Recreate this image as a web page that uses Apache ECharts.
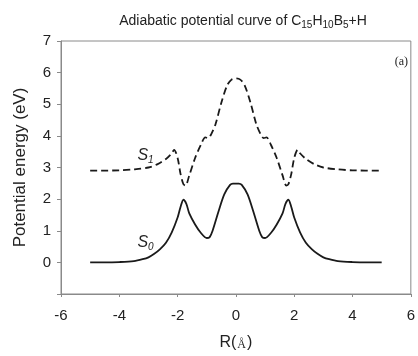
<!DOCTYPE html>
<html lang="en">
<head>
	<meta charset="UTF-8">
	<title>Adiabatic potential curve</title>
	<script src="https://cdn.jsdelivr.net/npm/echarts@6/dist/echarts.min.js"></script>
	<style>
		html, body { margin: 0; padding: 0; background: #fff; }
		#main { width: 418px; height: 356px; }
	</style>
</head>
<body>
	<div id="main"></div>
	<script>
		// R (Angstrom) positions
		var rS0 = [-5, -4.5, -4, -3.5, -3.2, -3, -2.8, -2.6, -2.4, -2.2, -2.0, -1.9, -1.8, -1.7, -1.6, -1.4, -1.2, -1.0, -0.9, -0.8, -0.6, -0.4, -0.2, -0.1, 0,
			0.1, 0.2, 0.4, 0.6, 0.8, 0.9, 1.0, 1.2, 1.4, 1.6, 1.7, 1.8, 1.9, 2.0, 2.2, 2.4, 2.6, 2.8, 3, 3.2, 3.5, 4, 4.5, 5];
		// ground state S0 energy (eV)
		var eS0 = [0, 0, 0.01, 0.04, 0.1, 0.16, 0.27, 0.42, 0.62, 0.95, 1.42, 1.75, 1.98, 1.85, 1.55, 1.2, 0.93, 0.77, 0.8, 1.0, 1.6, 2.15, 2.45, 2.49, 2.49,
			2.49, 2.45, 2.15, 1.6, 1.0, 0.8, 0.77, 0.93, 1.2, 1.55, 1.85, 1.98, 1.75, 1.42, 0.95, 0.62, 0.42, 0.27, 0.16, 0.1, 0.04, 0.01, 0, 0];

		var rS1 = [-5, -4, -3.5, -3, -2.7, -2.4, -2.2, -2.12, -2.0, -1.9, -1.8, -1.73, -1.6, -1.4, -1.2, -1.05, -0.95, -0.85, -0.7, -0.5, -0.3, -0.15, 0,
			0.15, 0.3, 0.5, 0.7, 0.85, 0.95, 1.05, 1.2, 1.4, 1.6, 1.73, 1.8, 1.9, 2.0, 2.12, 2.2, 2.4, 2.7, 3, 3.5, 4, 5];
		// excited state S1 energy (eV)
		var eS1 = [2.9, 2.91, 2.94, 3.0, 3.1, 3.27, 3.45, 3.56, 3.3, 2.8, 2.47, 2.43, 2.75, 3.3, 3.72, 3.95, 3.93, 4.05, 4.37, 5.05, 5.6, 5.78, 5.82,
			5.78, 5.6, 5.05, 4.37, 4.05, 3.93, 3.95, 3.72, 3.3, 2.75, 2.43, 2.47, 2.8, 3.3, 3.56, 3.45, 3.27, 3.1, 3.0, 2.94, 2.91, 2.9];

		var xTicks = [-6, -4, -2, 0, 2, 4, 6];
		var yTicks = [0, 1, 2, 3, 4, 5, 6, 7];

		function pairs(xs, ys) {
			var out = [];
			for (var i = 0; i < xs.length; i++) out.push([xs[i], ys[i]]);
			return out;
		}

		var chart = echarts.init(document.getElementById('main'));
		var axisGray = '#8a8a8a';
		var font = 'Liberation Sans, Arial, sans-serif';

		chart.setOption({
			animation: false,
			title: {
				text: 'Adiabatic potential curve of C{s|15}H{s|10}B{s|5}+H',
				left: 238, top: 8, textAlign: 'center',
				textStyle: {
					fontFamily: font, fontSize: 14, fontWeight: 'normal', color: '#222',
					rich: { s: { fontSize: 10, fontFamily: font, color: '#222', padding: [7, 0, 0, 0] } }
				}
			},
			grid: { left: 61, right: 4, top: 41, bottom: 60, show: true, borderColor: axisGray, borderWidth: 1 },
			xAxis: {
				type: 'value', min: -6, max: 6, interval: 2,
				name: 'R({a|Å})', nameLocation: 'middle', nameGap: 41,
				nameTextStyle: {
					fontFamily: font, fontSize: 16, color: '#222',
					rich: { a: { fontFamily: 'Liberation Serif, serif', fontSize: 12, color: '#222', padding: [4, 1, 0, 1] } }
				},
				axisLine: { onZero: false, lineStyle: { color: axisGray } },
				axisTick: { inside: false, length: 3, lineStyle: { color: axisGray } },
				axisLabel: {
					fontFamily: font, fontSize: 15, color: '#222', margin: 14,
					formatter: function (v) { return xTicks.indexOf(v) >= 0 ? String(v) : ''; }
				},
				splitLine: { show: false }
			},
			yAxis: {
				type: 'value', min: -1, max: 7, interval: 1,
				name: 'Potential energy (eV)', nameLocation: 'middle', nameGap: 32,
				nameTextStyle: { fontFamily: font, fontSize: 17, color: '#222' },
				axisLine: { show: true, onZero: false, lineStyle: { color: axisGray } },
				axisTick: { show: true, length: 4, lineStyle: { color: axisGray } },
				axisLabel: {
					fontFamily: font, fontSize: 15, color: '#222', margin: 10,
					formatter: function (v) { return yTicks.indexOf(v) >= 0 ? String(v) : ''; }
				},
				splitLine: { show: false }
			},
			series: [
				{
					name: 'S1', type: 'line', data: pairs(rS1, eS1), smooth: 0.3, showSymbol: false,
					lineStyle: { color: '#1a1a1a', width: 1.8, type: [7, 4] }
				},
				{
					name: 'S0', type: 'line', data: pairs(rS0, eS0), smooth: 0.3, showSymbol: false,
					lineStyle: { color: '#1a1a1a', width: 1.8 }
				}
			]
		});

		// curve labels and panel tag
		var p1 = chart.convertToPixel({ gridIndex: 0 }, [-3.38, 3.65]);
		var p0 = chart.convertToPixel({ gridIndex: 0 }, [-3.38, 0.9]);
		var labelStyle = function (sub) {
			return {
				text: '{m|S}{s|' + sub + '}',
				rich: {
					m: { fontFamily: font, fontSize: 16, fontStyle: 'italic', fill: '#222' },
					s: { fontFamily: font, fontSize: 10, fontStyle: 'italic', fill: '#222', padding: [8, 0, 0, 0] }
				}
			};
		};
		chart.setOption({
			graphic: [
				{ type: 'text', x: p1[0], y: p1[1], style: labelStyle('1') },
				{ type: 'text', x: p0[0], y: p0[1], style: labelStyle('0') },
				{ type: 'text', right: 10, top: 56, style: { text: '(a)', fontFamily: 'Liberation Serif, Times New Roman, serif', fontSize: 12, fill: '#222' } }
			]
		});
	</script>
</body>
</html>
